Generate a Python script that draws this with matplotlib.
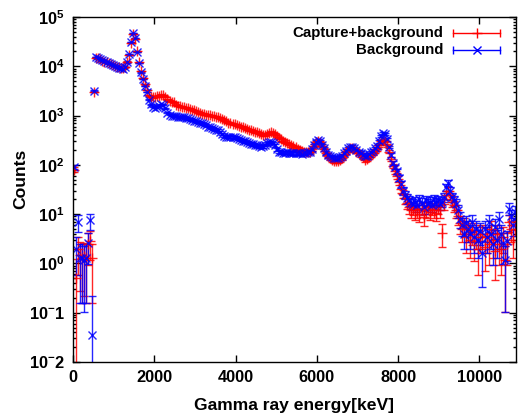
import numpy as np
import matplotlib
matplotlib.use('Agg')
from matplotlib import pyplot as plt
from matplotlib.ticker import LogLocator, FixedLocator, NullFormatter, NullLocator

plt.rcParams['font.family'] = ['Liberation Sans', 'DejaVu Sans']
plt.rcParams['font.weight'] = 'bold'
plt.rcParams['mathtext.fontset'] = 'custom'
plt.rcParams['mathtext.rm'] = 'Liberation Sans:bold'
plt.rcParams['mathtext.bf'] = 'Liberation Sans:bold'
plt.rcParams['mathtext.default'] = 'bf'

# 50 keV bins, centres from 25 keV up
BIN_WIDTH = 50
# counts -> error: sqrt(raw) * scale
SCALE = 1.0

capture = [
    80, 0.5, 2.0, 1.5, 1.3, 1.4, 1.3, 2.5, 2.9, 1.3,
    3000, 15000, 14500, 14000, 13000, 12500, 12000, 11500, 11000, 10500,
    10200, 9800, 9500, 9300, 9200, 9800, 12500, 17000, 30000, 46000,
    36000, 20000, 12000, 8000, 5800, 4300, 3300, 2600, 2400, 2350,
    2400, 2450, 2550, 2650, 2600, 2400, 2150, 2000, 1900, 1850,
    1650, 1600, 1560, 1520, 1480, 1440, 1400, 1360, 1320, 1280,
    1230, 1180, 1130, 1100, 1070, 1050, 1030, 1010, 990, 970,
    950, 920, 890, 860, 810, 760, 720, 700, 680, 660,
    640, 620, 600, 580, 560, 540, 520, 505, 490, 470,
    455, 440, 420, 405, 410, 420, 440, 455, 450, 420,
    390, 355, 330, 310, 295, 280, 265, 250, 238, 225,
    212, 202, 192, 185, 182, 180, 183, 205, 245, 285,
    305, 290, 245, 205, 170, 148, 135, 125, 120, 118,
    122, 128, 138, 155, 180, 200, 215, 218, 205, 185,
    170, 160, 142, 128, 130, 145, 160, 175, 190, 210,
    250, 300, 320, 310, 250, 185, 130, 95, 75, 60,
    45, 33, 26, 21, 17, 14, 12, 13, 11, 12,
    10, 13, 8.7, 12, 14, 11, 13, 12, 10.5, 14,
    12, 4.2, 16, 25, 30, 24, 18, 15, 12, 9,
    6.5, 5, 6, 3.5, 5, 3, 4.5, 2.8, 4, 2,
    3.5, 4, 2.2, 3.5, 2.5, 5, 3, 1.8, 4, 2.5,
    2, 3.5, 1.2, 2.5, 7, 5, 3, 6,
]

background = [
    90, 2.0, 7.0, 1.3, 1.3, 1.2, 1.3, 2.6, 7.5, 0.035,
    3200, 15500, 15000, 14200, 13500, 12800, 12000, 11600, 11200, 10600,
    10100, 9700, 9400, 9200, 9000, 9600, 12000, 17500, 31000, 48000,
    37000, 19500, 11500, 7500, 5500, 4000, 3000, 2100, 1700, 1500,
    1450, 1500, 1600, 1700, 1650, 1400, 1150, 1050, 1000, 980,
    960, 950, 940, 930, 920, 900, 880, 850, 820, 790,
    760, 740, 720, 700, 680, 640, 600, 580, 560, 540,
    520, 500, 470, 420, 380, 370, 375, 370, 365, 360,
    355, 340, 320, 310, 300, 290, 280, 270, 260, 255,
    250, 240, 232, 240, 255, 275, 290, 292, 280, 250,
    210, 185, 180, 178, 176, 180, 178, 175, 174, 172,
    170, 172, 168, 172, 178, 180, 185, 210, 255, 295,
    315, 300, 255, 220, 180, 160, 148, 142, 140, 138,
    140, 142, 150, 170, 195, 215, 228, 232, 220, 200,
    185, 178, 160, 148, 150, 165, 180, 195, 215, 240,
    300, 380, 445, 430, 330, 230, 160, 110, 90, 75,
    55, 40, 30, 25, 21, 19, 17, 16, 18, 15,
    20, 17, 14, 19, 16, 18, 15, 20, 17, 19,
    16, 18, 22, 35, 43, 30, 22, 19, 16, 12,
    8, 6, 4, 6.5, 5, 4, 7, 3.5, 5, 3,
    4.5, 1.6, 5, 3.5, 7, 4, 2.5, 5.5, 3, 8,
    4, 2.6, 1.2, 2.8, 13, 9, 6, 11,
]

xticks = [0, 2000, 4000, 6000, 8000, 10000]
yticks = [1e-2, 1e-1, 1e0, 1e1, 1e2, 1e3, 1e4, 1e5]
ytick_labels = [r'$10^{-}2$', r'$10^{-}1$', r'$10^{0}$', r'$10^{1}$',
                r'$10^{2}$', r'$10^{3}$', r'$10^{4}$', r'$10^{5}$']


def ErrorBars(counts):
	counts = np.asarray(counts, dtype=float)
	err = np.sqrt(SCALE * counts)
	# bars that run below zero go off the bottom of the log axis
	lower = np.where(counts - err > 0, err, counts - 1e-5)
	return counts, np.vstack([lower, err])


def main():
	fig = plt.figure(figsize=(5.18, 4.16), dpi=100)
	ax = fig.add_axes([73 / 518, 1 - 362 / 416, 443 / 518, 345 / 416])

	energy_cap = BIN_WIDTH / 2 + BIN_WIDTH * np.arange(len(capture))
	energy_bg = BIN_WIDTH / 2 + BIN_WIDTH * np.arange(len(background))

	y, yerr = ErrorBars(capture)
	ax.errorbar(energy_cap, y, yerr=yerr, fmt='+', color='#ff0000', ms=7,
		mew=1.0, elinewidth=1.0, capsize=3, capthick=1.0, alpha=0.85)
	y, yerr = ErrorBars(background)
	ax.errorbar(energy_bg, y, yerr=yerr, fmt='x', color='#0000ff', ms=6,
		mew=1.0, elinewidth=1.0, capsize=3, capthick=1.0, alpha=0.85)

	ax.set_yscale('log')
	ax.set_xlim(0, 10900)
	ax.set_ylim(1e-2, 1e5)

	ax.xaxis.set_major_locator(FixedLocator(xticks))
	ax.xaxis.set_minor_locator(NullLocator())
	ax.yaxis.set_major_locator(FixedLocator(yticks))
	ax.set_yticklabels(ytick_labels)
	ax.yaxis.set_minor_locator(LogLocator(base=10, subs=np.arange(2, 10), numticks=20))
	ax.yaxis.set_minor_formatter(NullFormatter())
	ax.tick_params(which='both', direction='in', top=True, right=True, width=1.0,
		labelsize=11.8)
	ax.tick_params(which='major', length=5, pad=6)
	ax.tick_params(which='minor', length=2.5)
	for s in ax.spines.values():
		s.set_linewidth(1.0)

	ax.set_xlabel('Gamma ray energy[keV]', fontsize=12.6, fontweight='bold')
	ax.set_ylabel('Counts', fontsize=12.6, fontweight='bold')
	ax.yaxis.set_label_coords(-0.10, 0.53)
	ax.xaxis.set_label_coords(0.5, -0.105)

	# gnuplot style key: text on the left, sample with caps on the right
	key = [('Capture+background', '#ff0000', '+', 7), ('Background', '#0000ff', 'x', 6)]
	for i, (label, c, m, ms) in enumerate(key):
		yk = 0.9536 - 0.0493 * i
		ax.text(0.835, yk, label, transform=ax.transAxes, ha='right', va='center',
			fontsize=10.8, fontweight='bold')
		ax.plot([0.858, 0.964], [yk, yk], color=c, lw=1.0, transform=ax.transAxes)
		ax.plot([0.858, 0.964], [yk, yk], ls='none', marker='|', ms=6, mew=1.0,
			color=c, transform=ax.transAxes)
		ax.plot([0.911], [yk], ls='none', marker=m, ms=ms, mew=1.0, color=c,
			transform=ax.transAxes)

	fig.savefig('out.png', dpi=100)


if __name__ == "__main__":
	main()
